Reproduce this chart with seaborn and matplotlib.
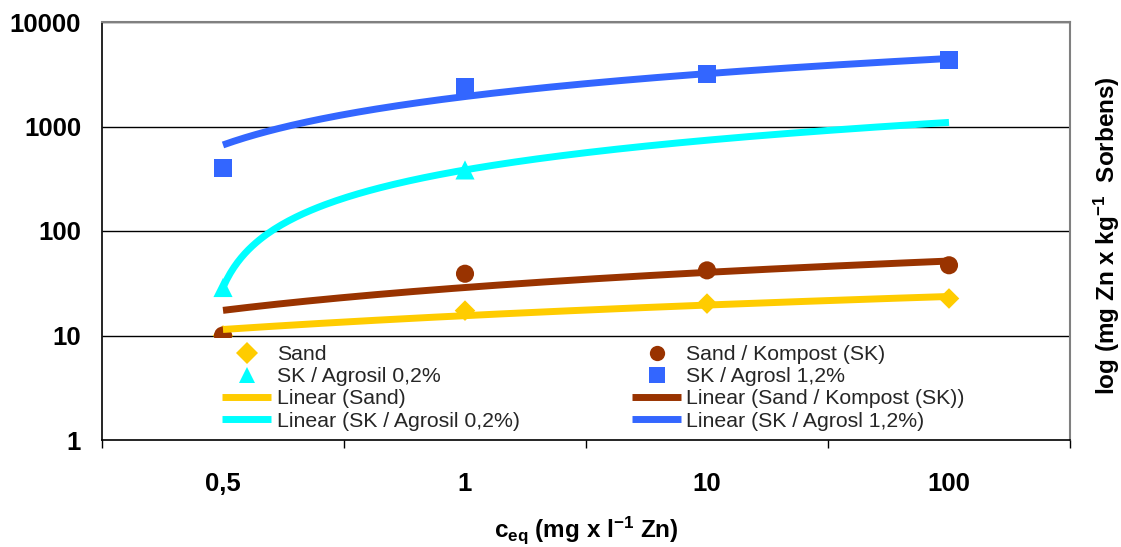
import numpy as np
import pandas as pd
import matplotlib
matplotlib.use("Agg")
import matplotlib.pyplot as plt
from matplotlib.lines import Line2D
from matplotlib.ticker import FixedLocator, NullLocator
import seaborn as sns

# values
cats = ["0,5", "1", "10", "100"]
sand = [10.0, 17.3, 20.2, 22.6]
kompost = [10.0, 39.0, 42.0, 47.0]
agrosil_02 = [28.8, 384.0, np.nan, np.nan]
agrosil_12 = [401.0, 2360.0, 3150.0, 4370.0]

names = ["Sand", "Sand / Kompost (SK)", "SK / Agrosil 0,2%", "SK / Agrosl 1,2%"]
values = [sand, kompost, agrosil_02, agrosil_12]
colors = dict(zip(names, ["#FFCC00", "#993300", "#00FFFF", "#3366FF"]))
markers = dict(zip(names, ["D", "o", "^", "s"]))
msizes = dict(zip(names, [110, 170, 190, 170]))

pos = np.arange(len(cats))
points = pd.DataFrame([
    {"pos": p, "value": v, "series": n}
    for n, vals in zip(names, values)
    for p, v in zip(pos, vals) if not np.isnan(v)
])

# Excel style linear trendlines (fit on category index, shown on log axis)
grid = np.linspace(0, len(cats) - 1, 200)
rows = []
for n, vals in zip(names, values):
    vals = np.array(vals)
    ok = ~np.isnan(vals)
    b, a = np.polyfit(pos[ok], vals[ok], 1)
    for g in grid:
        rows.append({"pos": g, "value": a + b * g, "series": "Linear (" + n + ")"})
trend = pd.DataFrame(rows)
trend_colors = {"Linear (" + n + ")": colors[n] for n in names}

sns.set_theme(style="white")
plt.rcParams["font.family"] = ["Liberation Sans", "DejaVu Sans"]
plt.rcParams["mathtext.default"] = "regular"
plt.rcParams["lines.solid_capstyle"] = "butt"

fig = plt.figure(figsize=(11.21, 5.47), dpi=100)
ax = fig.add_axes([102 / 1121, 1 - 440 / 547, 968 / 1121, 418 / 547])

for n in names:
    sns.scatterplot(data=points[points.series == n], x="pos", y="value",
                    color=colors[n], marker=markers[n], s=msizes[n],
                    edgecolor="none", legend=False, ax=ax, zorder=3)

sns.lineplot(data=trend, x="pos", y="value", hue="series", palette=trend_colors,
             linewidth=5, estimator=None, sort=False, legend=False, ax=ax, zorder=4)

ax.set_yscale("log")
ax.set_ylim(1, 10000)
ax.set_xlim(-0.5, len(cats) - 0.5)

# white band behind the legend (legend sits inside the plot, under the 10 line)
ax.axhspan(1, 9.55, facecolor="white", edgecolor="none", zorder=4.5)

ax.yaxis.set_major_locator(FixedLocator([1, 10, 100, 1000, 10000]))
ax.yaxis.set_minor_locator(NullLocator())
ax.set_yticklabels(["1", "10", "100", "1000", "10000"])
ax.set_xticks(pos)
ax.set_xticklabels(cats)
ax.xaxis.set_minor_locator(FixedLocator(np.arange(-0.5, len(cats), 1.0)))

ax.tick_params(axis="y", which="major", direction="out", length=6, width=1,
               color="black", pad=9, labelsize=18.5)
ax.tick_params(axis="x", which="major", length=0, pad=23, labelsize=18.5)
ax.tick_params(axis="x", which="minor", direction="out", length=6, width=1,
               color="black", bottom=True)
for lab in ax.get_xticklabels() + ax.get_yticklabels():
    lab.set_fontweight("bold")
    lab.set_color("black")

ax.grid(axis="y", which="major", color="black", linewidth=1)
ax.grid(axis="x", visible=False)
for side in ["left", "bottom"]:
    ax.spines[side].set_color("black")
    ax.spines[side].set_linewidth(1.2)
for side in ["top", "right"]:
    ax.spines[side].set_color("#808080")
    ax.spines[side].set_linewidth(1.5)
for sp in ax.spines.values():
    sp.set_zorder(6)

ax.set_xlabel("c$_{eq}$ (mg x l$^{-1}$ Zn)", fontsize=17.5, fontweight="bold",
              color="black")
ax.xaxis.set_label_coords(0.5, -0.178)
ax.yaxis.set_label_position("right")
ax.set_ylabel("log (mg Zn x kg$^{-1}$  Sorbens)", fontsize=17.5, fontweight="bold",
              color="black", rotation=90)
ax.yaxis.set_label_coords(1.023, 0.49)

# legend: row-major order like the original, two columns
order = [0, 2, 1, 3]
handles, labels = [], []
for col in range(2):
    for i in (order[col * 2], order[col * 2 + 1]):
        n = names[i]
        handles.append(Line2D([], [], linestyle="none", marker=markers[n],
                              color=colors[n], markersize=11, markeredgewidth=0))
        labels.append(n)
    for i in (order[col * 2], order[col * 2 + 1]):
        n = names[i]
        handles.append(Line2D([], [], color=colors[n], linewidth=5))
        labels.append("Linear (" + n + ")")

leg = ax.legend(handles, labels, ncol=2, loc="upper left",
                bbox_to_anchor=(0.1244, 0.227), fontsize=15.3, frameon=False,
                borderpad=0, labelspacing=0.15, borderaxespad=0,
                handlelength=2.3, handletextpad=0.25, columnspacing=5.3)
leg.set_zorder(5)

fig.savefig("out.png", dpi=100)
